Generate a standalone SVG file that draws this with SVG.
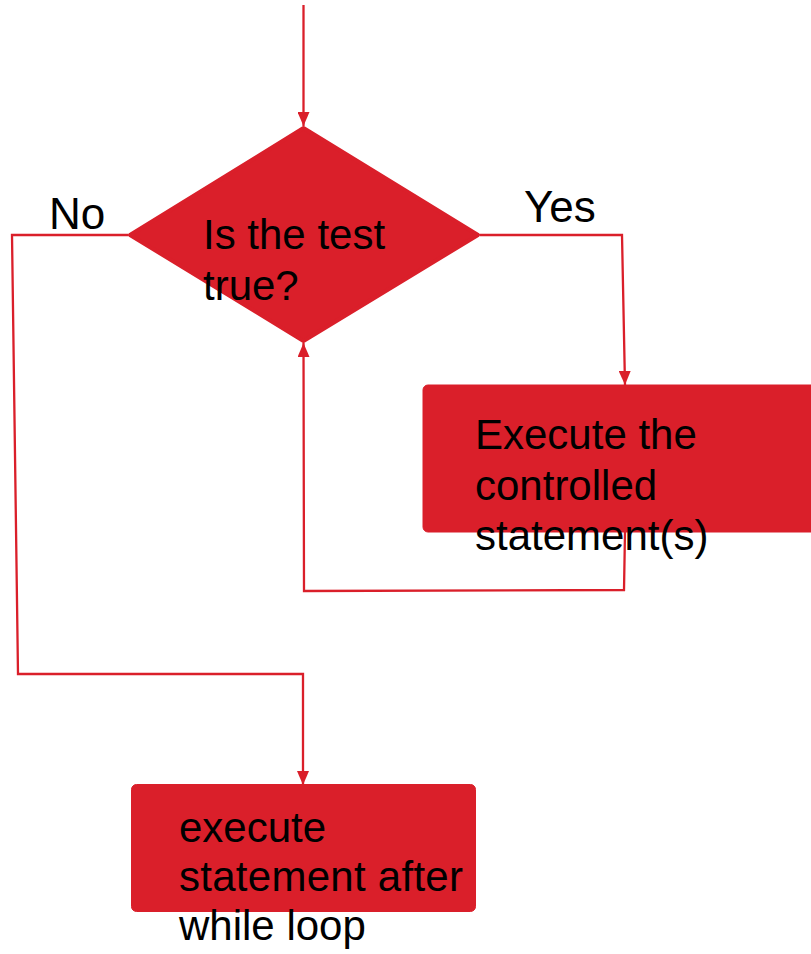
<svg xmlns="http://www.w3.org/2000/svg" width="811" height="954" viewBox="0 0 811 954">
  <style>
    .shape { fill: #DA1F2A; stroke: #DA1F2A; stroke-linejoin: round; }
    .wire { fill: none; stroke: #DA1F2A; stroke-width: 2.3; }
    .label { font-family: "Liberation Sans", Arial, sans-serif; font-size: 42px; fill: #000; }
    .branch { font-size: 44px; }
  </style>
  <defs>
    <marker id="arrow" viewBox="0 0 14 12" refX="14" refY="6" markerWidth="14" markerHeight="12" markerUnits="userSpaceOnUse" orient="auto">
      <path d="M0,0 L14,6 L0,12 Z" fill="#DA1F2A"/>
    </marker>
  </defs>

  <g id="connectors">
    <!-- entry into the test -->
    <path class="wire" d="M303.5,5 L303.5,126" marker-end="url(#arrow)"/>
    <!-- yes branch to the loop body -->
    <path class="wire" d="M480,235 L622,235 L625,385" marker-end="url(#arrow)"/>
    <!-- loop back from the body to the test -->
    <path class="wire" d="M625,532 L624,590 L304,591 L303.5,343" marker-end="url(#arrow)"/>
    <!-- no branch to the statement after the loop -->
    <path class="wire" d="M128,235 L12,235 L18,674 L303,674 L303,785" marker-end="url(#arrow)"/>
  </g>

  <g id="test">
    <path class="shape" stroke-width="4" d="M303.5,128 L478,235 L303.5,341 L130,235 Z"/>
    <text class="label" x="203" y="249">Is the test</text>
    <text class="label" x="203" y="300">true?</text>
  </g>

  <g id="label-no">
    <text class="label branch" x="49" y="229">No</text>
  </g>

  <g id="label-yes">
    <text class="label branch" x="524" y="222">Yes</text>
  </g>

  <g id="body">
    <rect class="shape" x="423" y="385" width="400" height="147" rx="5"/>
    <text class="label" x="475" y="449">Execute the</text>
    <text class="label" x="475" y="500">controlled</text>
    <text class="label" x="475" y="550">statement(s)</text>
  </g>

  <g id="after-loop">
    <rect class="shape" x="131.5" y="784.5" width="344" height="127" rx="5"/>
    <text class="label" x="179" y="842">execute</text>
    <text class="label" x="179" y="891" textLength="284" lengthAdjust="spacing">statement after</text>
    <text class="label" x="179" y="940">while loop</text>
  </g>
</svg>
